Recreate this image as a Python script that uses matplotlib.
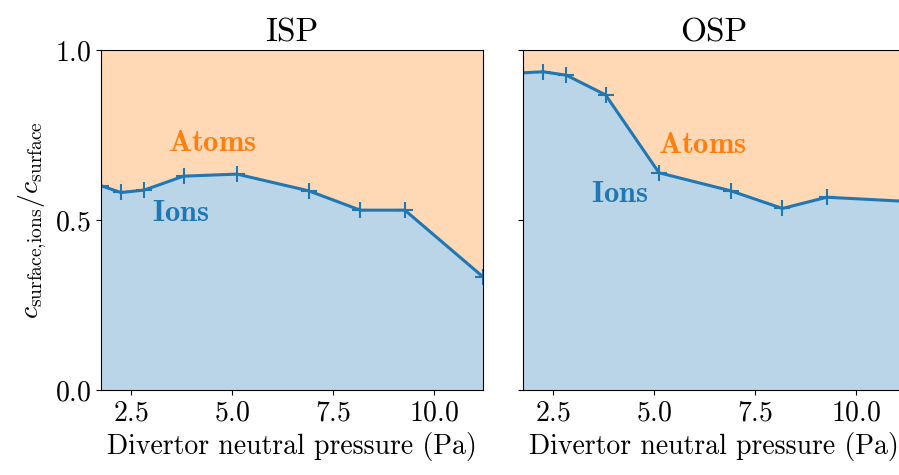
import matplotlib
matplotlib.use("Agg")
import matplotlib.pyplot as plt

plt.rcParams['font.family'] = 'serif'
plt.rcParams['font.serif'] = ['cmr10']
plt.rcParams['mathtext.fontset'] = 'cm'
plt.rcParams['axes.formatter.use_mathtext'] = True

# divertor neutral pressure (Pa)
pressure = [1.76, 2.25, 2.83, 3.80, 5.12, 6.89, 8.17, 9.27, 11.2]
# fraction of surface concentration coming from ions
isp_ions = [0.601, 0.581, 0.588, 0.629, 0.635, 0.586, 0.529, 0.529, 0.333]
osp_ions = [0.933, 0.936, 0.926, 0.868, 0.639, 0.586, 0.534, 0.567, 0.555]

titles = ["ISP", "OSP"]
series = [isp_ions, osp_ions]
# label positions (x, y) for "Atoms" and "Ions"
atoms_pos = [(3.42, 0.726), (5.10, 0.72)]
ions_pos = [(3.02, 0.52), (3.44, 0.576)]

fig = plt.figure(figsize=(8.99, 4.75), dpi=100)
ax1 = fig.add_axes([0.1123, 0.1789, 0.4249, 0.7158])
ax2 = fig.add_axes([0.5818, 0.1789, 0.4249, 0.7158], sharey=ax1)

for ax, title, frac, apos, ipos in zip([ax1, ax2], titles, series, atoms_pos, ions_pos):
    ax.fill_between(pressure, 0, frac, color='tab:blue', alpha=0.3, lw=0)
    ax.fill_between(pressure, frac, 1, color='tab:orange', alpha=0.3, lw=0)
    ax.plot(pressure, frac, color='tab:blue', marker='+', ms=11, mew=1.5, lw=2.2)
    ax.text(apos[0], apos[1], r'$\mathbf{Atoms}$', color='tab:orange', fontsize=22, va='center')
    ax.text(ipos[0], ipos[1], r'$\mathbf{Ions}$', color='tab:blue', fontsize=22, va='center')
    ax.set_title(title, fontsize=24)
    ax.set_xlim(min(pressure), max(pressure))
    ax.set_ylim(0, 1)
    ax.set_xticks([2.5, 5.0, 7.5, 10.0])
    ax.set_xlabel("Divertor neutral pressure (Pa)", fontsize=20)
    ax.tick_params(labelsize=20)

ax1.set_yticks([0, 0.5, 1.0])
ax1.set_ylabel(r'$c_\mathrm{surface{,}ions}/c_\mathrm{surface}$', fontsize=20)
ax2.tick_params(labelleft=False)

fig.savefig("out.png", dpi=100)
